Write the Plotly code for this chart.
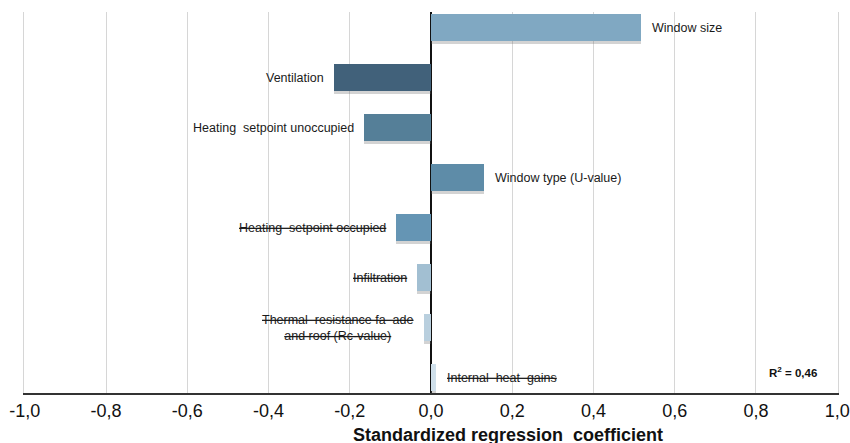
import plotly.graph_objects as go

# Regression inputs, top to bottom
factors = [
    "Window size",
    "Ventilation",
    "Heating  setpoint unoccupied",
    "Window type (U-value)",
    "<s>Heating  setpoint occupied</s>",
    "<s>Infiltration</s>",
    "<s>Thermal  resistance fa  ade</s><br><s>and roof (Rc-value)</s>",
    "<s>Internal  heat  gains</s>",
]
coefficients = [0.517, -0.239, -0.165, 0.13, -0.087, -0.034, -0.017, 0.012]
bar_colors = ["#80A8C2", "#41617A", "#557F98", "#5E8CA8", "#6595B4",
              "#A2BFD2", "#B9CFDE", "#CFDFEA"]
tick_vals = [-1.0, -0.8, -0.6, -0.4, -0.2, 0.0, 0.2, 0.4, 0.6, 0.8, 1.0]
tick_text = ["-1,0", "-0,8", "-0,6", "-0,4", "-0,2", "0,0", "0,2", "0,4", "0,6", "0,8", "1,0"]
r_squared = "0,46"

cats = list(range(len(factors)))
bar_w = 0.54
font_family = "Liberation Sans, Arial, sans-serif"
grid_color = "#D6D6D6"

fig = go.Figure()

# soft drop shadow under each bar
fig.add_trace(go.Bar(
    x=coefficients, y=cats, orientation="h",
    width=bar_w, offset=-bar_w / 2 + 0.05,
    marker=dict(color="rgba(110,110,110,0.3)", line=dict(width=0)),
    hoverinfo="skip", showlegend=False,
))
fig.add_trace(go.Bar(
    x=coefficients, y=cats, orientation="h",
    width=bar_w, offset=-bar_w / 2,
    marker=dict(color=bar_colors, line=dict(width=0)),
    showlegend=False,
))

label_font = dict(family=font_family, size=12.5, color="#1a1a1a")
for i, (name, val) in enumerate(zip(factors, coefficients)):
    pos = val >= 0
    fig.add_annotation(
        x=val, y=i, xref="x", yref="y", text=name, showarrow=False,
        xanchor="left" if pos else "right", yanchor="middle",
        xshift=9 if pos else -8, align="center", font=label_font,
    )

fig.add_annotation(
    x=0.891, y=6.88, xref="x", yref="y",
    text="<b>R<sup>2</sup> = " + r_squared + "</b>", showarrow=False,
    font=dict(family=font_family, size=11.5, color="#111"),
)
fig.add_annotation(
    x=0.595, y=-0.078, xref="paper", yref="paper", yanchor="top",
    text="<b>Standardized regression  coefficient</b>", showarrow=False,
    font=dict(family=font_family, size=18, color="#111"),
)

fig.update_layout(
    template="none",
    width=850, height=443,
    margin=dict(l=24, r=12, t=12, b=50, autoexpand=False),
    paper_bgcolor="white", plot_bgcolor="white",
    barmode="overlay", bargap=0,
    xaxis=dict(
        range=[-1.002, 1.002], tickvals=tick_vals, ticktext=tick_text,
        automargin=False,
        showgrid=True, gridcolor=grid_color, gridwidth=1.3,
        zeroline=True, zerolinecolor="#111", zerolinewidth=2,
        showline=True, linecolor="#333", linewidth=2,
        ticks="", tickfont=dict(family=font_family, size=18, color="#111"),
        layer="below traces",
    ),
    yaxis=dict(
        range=[7.31, -0.31], showticklabels=False, showgrid=False,
        automargin=False,
        zeroline=False, ticks="",
        # outer gridlines at the -1,0 and 1,0 edges
        showline=True, mirror=True, linecolor=grid_color, linewidth=1.3,
    ),
)

fig.write_html("out.html")
